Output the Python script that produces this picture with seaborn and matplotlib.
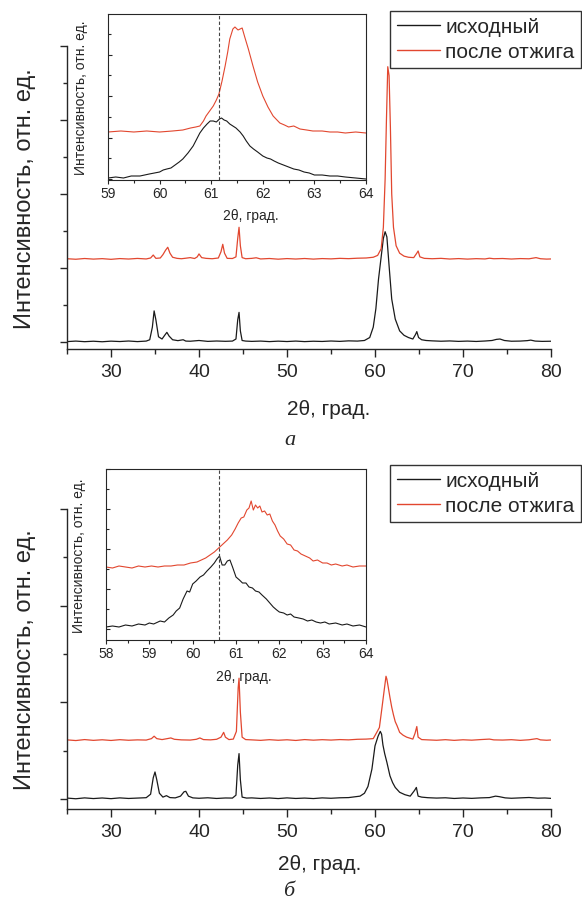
import pandas as pd
import matplotlib
matplotlib.use("Agg")
import matplotlib.pyplot as plt
import seaborn as sns
from matplotlib.lines import Line2D
from matplotlib.ticker import MultipleLocator, NullFormatter

# ---------------------------------------------------------
# Data (arbitrary intensity units)
# ---------------------------------------------------------
LABELS = ["исходный", "после отжига"]
COLORS = ["#1a1a1a", "#e2472f"]

# panel a, main
a_x_black = [25, 26, 27, 28, 29, 30, 31, 32, 33, 34, 34.4, 34.7, 34.9, 35.1, 35.4, 35.8,
             36.1, 36.35, 36.6, 37.0, 37.6, 38.2, 38.5, 39, 40, 41, 42, 43, 43.8, 44.2,
             44.4, 44.55, 44.7, 44.9, 45.3, 46, 47, 48, 49, 50, 51, 52, 53, 54, 55, 56,
             57, 58, 58.8, 59.4, 59.8, 60.1, 60.4, 60.7, 60.95, 61.15, 61.35, 61.6, 61.9,
             62.3, 62.8, 63.3, 63.8, 64.3, 64.6, 64.75, 64.95, 65.3, 65.8, 66.5, 67.5,
             68.5, 69.5, 70.5, 71.5, 72.5, 73.3, 73.8, 74.2, 74.7, 75.5, 76.5, 77.3, 77.7,
             78.2, 79, 80]
a_y_black = [0.005, 0.012, 0.004, 0.010, 0.003, 0.011, 0.006, 0.013, 0.005, 0.012, 0.030,
             0.200, 0.420, 0.300, 0.070, 0.040, 0.090, 0.130, 0.080, 0.030, 0.018, 0.030,
             0.012, 0.010, 0.020, 0.008, 0.013, 0.009, 0.012, 0.040, 0.300, 0.400, 0.150,
             0.020, 0.012, 0.008, 0.012, 0.005, 0.011, 0.006, 0.012, 0.005, 0.010, 0.007,
             0.013, 0.008, 0.015, 0.012, 0.020, 0.060, 0.200, 0.450, 0.850, 1.150, 1.400,
             1.490, 1.420, 1.030, 0.580, 0.310, 0.150, 0.090, 0.060, 0.040, 0.100, 0.140,
             0.060, 0.030, 0.020, 0.015, 0.010, 0.014, 0.008, 0.012, 0.007, 0.013, 0.020,
             0.035, 0.040, 0.020, 0.010, 0.012, 0.018, 0.025, 0.012, 0.008, 0.010]
a_x_red = [25, 26, 27, 28, 29, 30, 31, 32, 33, 34, 34.5, 34.8, 35.1, 35.6, 35.9, 36.2,
           36.45, 36.7, 37.0, 37.5, 38.0, 38.5, 39.0, 39.5, 39.8, 40.0, 40.3, 40.8, 41.5,
           42.2, 42.5, 42.7, 42.9, 43.2, 43.8, 44.2, 44.4, 44.55, 44.7, 44.9, 45.3, 46.0,
           46.5, 47, 48, 49, 50, 51, 52, 53, 54, 55, 56, 57, 58, 59, 59.8, 60.3, 60.7,
           60.95, 61.15, 61.3, 61.45, 61.6, 61.75, 61.9, 62.1, 62.4, 62.8, 63.3, 63.8,
           64.4, 64.75, 64.9, 65.1, 65.6, 66.5, 67.5, 68.5, 69.5, 70.5, 71.5, 72.5, 73.0,
           73.5, 74.5, 75.5, 76.5, 77.5, 78.3, 78.8, 79.5, 80]
a_y_red = [1.125, 1.118, 1.128, 1.120, 1.126, 1.117, 1.127, 1.121, 1.129, 1.122, 1.135,
           1.175, 1.130, 1.135, 1.180, 1.240, 1.280, 1.200, 1.145, 1.130, 1.125, 1.132,
           1.140, 1.128, 1.150, 1.190, 1.140, 1.130, 1.125, 1.135, 1.220, 1.320, 1.200,
           1.130, 1.128, 1.150, 1.400, 1.550, 1.300, 1.140, 1.125, 1.130, 1.138, 1.122,
           1.128, 1.119, 1.127, 1.121, 1.128, 1.120, 1.127, 1.123, 1.130, 1.126, 1.132,
           1.135, 1.145, 1.170, 1.260, 1.550, 2.200, 3.000, 3.720, 3.600, 2.900, 2.000,
           1.550, 1.300, 1.200, 1.160, 1.145, 1.140, 1.200, 1.230, 1.150, 1.130, 1.125,
           1.130, 1.121, 1.127, 1.120, 1.126, 1.122, 1.132, 1.125, 1.128, 1.121, 1.127,
           1.124, 1.140, 1.125, 1.120, 1.122]

# panel a, inset
ai_x_black = [59.0, 59.15, 59.3, 59.45, 59.62, 59.8, 60.0, 60.07, 60.14, 60.22, 60.3, 60.38,
              60.45, 60.55, 60.65, 60.72, 60.78, 60.85, 60.92, 60.98, 61.04, 61.1, 61.16,
              61.2, 61.25, 61.3, 61.36, 61.42, 61.48, 61.56, 61.62, 61.68, 61.75, 61.82,
              61.9, 62.0, 62.08, 62.15, 62.22, 62.3, 62.4, 62.5, 62.6, 62.7, 62.8, 62.9,
              63.0, 63.15, 63.3, 63.45, 63.6, 63.8, 64.0]
ai_y_black = [1, 2, 1, 3, 3, 5, 7, 9, 10, 11, 14, 17, 20, 26, 33, 40, 46, 51, 55, 58, 58,
              57, 60, 61, 59, 58, 55, 53, 51, 47, 43, 38, 33, 30, 27, 23, 21, 20, 18, 16,
              14, 12, 10, 9, 7, 6, 4, 4, 3, 3, 2, 1, 0]
ai_x_red = [59.0, 59.25, 59.5, 59.75, 60.0, 60.25, 60.45, 60.6, 60.7, 60.78, 60.85, 60.9,
            60.97, 61.04, 61.1, 61.15, 61.21, 61.27, 61.32, 61.36, 61.42, 61.46, 61.52,
            61.56, 61.6, 61.65, 61.72, 61.81, 61.9, 62.0, 62.1, 62.2, 62.33, 62.42, 62.5,
            62.6, 62.72, 62.85, 62.97, 63.15, 63.3, 63.45, 63.6, 63.8, 64.0]
ai_y_red = [47, 48, 47, 48, 47, 48, 49, 51, 52, 53, 58, 63, 68, 73, 79, 85, 98, 113, 127,
            140, 150, 152, 149, 150, 151, 142, 130, 113, 97, 83, 72, 63, 56, 54, 52, 53,
            50, 49, 48, 48, 47, 47, 46, 47, 46]

# panel b, main
b_x_black = [25, 26, 27, 28, 29, 30, 31, 32, 33, 34, 34.5, 34.8, 35.0, 35.2, 35.5, 35.9,
             36.3, 36.7, 37.3, 37.9, 38.3, 38.5, 38.8, 39.3, 40, 41, 42, 43, 43.8, 44.2,
             44.4, 44.55, 44.7, 44.9, 45.4, 46, 47, 48, 49, 50, 51, 52, 53, 54, 55, 56, 57,
             58.3, 58.8, 59.2, 59.65, 60.0, 60.35, 60.6, 60.75, 60.9, 61.1, 61.35, 61.7,
             62.0, 62.3, 62.8, 63.4, 64.0, 64.5, 64.7, 64.9, 65.3, 66, 67, 68, 69, 70, 71,
             72, 73, 73.7, 74.1, 74.8, 75.5, 76.5, 77.5, 78.5, 79.3, 80]
b_y_black = [0.010, 0.003, 0.012, 0.005, 0.011, 0.004, 0.012, 0.006, 0.010, 0.014, 0.050,
             0.220, 0.280, 0.200, 0.060, 0.020, 0.035, 0.015, 0.012, 0.030, 0.075, 0.080,
             0.030, 0.012, 0.008, 0.013, 0.006, 0.011, 0.010, 0.040, 0.350, 0.470, 0.200,
             0.020, 0.010, 0.012, 0.006, 0.011, 0.005, 0.012, 0.006, 0.010, 0.005, 0.012,
             0.008, 0.013, 0.015, 0.030, 0.060, 0.130, 0.310, 0.550, 0.650, 0.700, 0.670,
             0.560, 0.470, 0.380, 0.240, 0.170, 0.120, 0.070, 0.045, 0.030, 0.090, 0.120,
             0.030, 0.020, 0.014, 0.010, 0.013, 0.006, 0.011, 0.007, 0.012, 0.015, 0.030,
             0.025, 0.012, 0.008, 0.012, 0.016, 0.009, 0.011, 0.007]
b_x_red = [25, 26, 27, 28, 29, 30, 31, 32, 33, 34, 34.6, 34.9, 35.2, 35.8, 36.4, 36.8,
           37.2, 38, 39, 39.7, 40.1, 40.5, 41.3, 42.0, 42.5, 42.8, 43.0, 43.4, 43.9, 44.25,
           44.45, 44.55, 44.7, 44.9, 45.3, 46, 47, 48, 49, 50, 51, 52, 53, 54, 55, 56, 57,
           58, 59, 59.8, 60.2, 60.5, 60.8, 61.05, 61.25, 61.35, 61.5, 61.7, 61.9, 62.1,
           62.3, 62.5, 62.8, 63.2, 63.6, 64.3, 64.55, 64.75, 64.9, 65.3, 66, 67, 68, 69,
           70, 71, 72, 73, 73.5, 74.5, 75.5, 76.5, 77.5, 78.4, 78.8, 79.5, 80]
b_y_red = [0.612, 0.605, 0.615, 0.607, 0.613, 0.606, 0.614, 0.608, 0.612, 0.610, 0.625,
           0.650, 0.625, 0.615, 0.625, 0.632, 0.618, 0.612, 0.610, 0.618, 0.632, 0.615,
           0.612, 0.618, 0.640, 0.690, 0.640, 0.615, 0.620, 0.700, 1.150, 1.250, 0.900,
           0.640, 0.615, 0.612, 0.607, 0.614, 0.608, 0.613, 0.606, 0.615, 0.609, 0.614,
           0.610, 0.615, 0.612, 0.618, 0.620, 0.625, 0.690, 0.740, 0.950, 1.130, 1.270,
           1.240, 1.160, 1.050, 0.950, 0.870, 0.800, 0.760, 0.690, 0.660, 0.640, 0.620,
           0.680, 0.750, 0.640, 0.615, 0.612, 0.608, 0.614, 0.607, 0.613, 0.609, 0.615,
           0.620, 0.612, 0.610, 0.614, 0.607, 0.613, 0.625, 0.612, 0.608, 0.611]

# panel b, inset
bi_x_black = [58.0, 58.15, 58.3, 58.45, 58.6, 58.75, 58.9, 59.0, 59.1, 59.25, 59.35, 59.45,
              59.55, 59.62, 59.7, 59.78, 59.87, 59.93, 60.0, 60.08, 60.17, 60.25, 60.33,
              60.42, 60.5, 60.56, 60.62, 60.68, 60.74, 60.8, 60.86, 60.92, 61.0, 61.08,
              61.15, 61.23, 61.3, 61.38, 61.45, 61.53, 61.6, 61.7, 61.78, 61.86, 61.94,
              62.0, 62.1, 62.18, 62.26, 62.34, 62.45, 62.55, 62.65, 62.75, 62.85, 62.95,
              63.05, 63.15, 63.3, 63.45, 63.56, 63.7, 63.85, 64.0]
bi_y_black = [2, 3, 2, 4, 3, 5, 4, 6, 5, 8, 7, 11, 14, 18, 21, 30, 38, 37, 45, 48, 52, 54,
              58, 62, 66, 70, 73, 64, 64, 68, 69, 62, 52, 49, 46, 46, 42, 41, 38, 37, 34,
              30, 26, 22, 19, 17, 16, 14, 15, 12, 11, 10, 8, 9, 7, 6, 7, 5, 6, 4, 5, 3, 4, 2]
bi_x_red = [58.0, 58.15, 58.3, 58.45, 58.6, 58.75, 58.9, 59.05, 59.2, 59.35, 59.5, 59.65,
            59.8, 59.95, 60.1, 60.2, 60.3, 60.4, 60.5, 60.6, 60.7, 60.8, 60.9, 60.98, 61.05,
            61.12, 61.18, 61.25, 61.3, 61.35, 61.4, 61.45, 61.5, 61.55, 61.6, 61.66, 61.72,
            61.78, 61.84, 61.9, 61.96, 62.02, 62.1, 62.18, 62.26, 62.34, 62.42, 62.5, 62.6,
            62.7, 62.78, 62.88, 63.0, 63.1, 63.2, 63.3, 63.45, 63.56, 63.7, 63.85, 64.0]
bi_y_red = [62, 61, 63, 62, 61, 63, 62, 63, 62, 63, 63, 64, 64, 66, 67, 69, 71, 74, 77, 81,
            85, 89, 94, 100, 106, 111, 112, 119, 121, 128, 119, 124, 121, 123, 117, 118,
            114, 115, 108, 104, 98, 93, 90, 85, 84, 79, 78, 75, 73, 71, 68, 69, 66, 66, 64,
            65, 63, 64, 62, 63, 63]

a_marker = 61.15
b_marker = 60.6

# ---------------------------------------------------------
sns.set_theme(style="ticks")
plt.rcParams["font.family"] = ["Liberation Sans", "DejaVu Sans"]
plt.rcParams["axes.linewidth"] = 1.0

fig = plt.figure(figsize=(5.82, 9.03), dpi=100)
W, H = 582, 903


def frac(left, top, right, bottom):
    return [left / W, 1 - bottom / H, (right - left) / W, (bottom - top) / H]


def draw_curves(ax, xb, yb, xr, yr, lw):
    df = pd.concat([
        pd.DataFrame({"x": xb, "y": yb, "s": LABELS[0]}),
        pd.DataFrame({"x": xr, "y": yr, "s": LABELS[1]}),
    ])
    sns.lineplot(data=df, x="x", y="y", hue="s", palette=COLORS, sort=False,
                 estimator=None, linewidth=lw, ax=ax, legend=False)


def main_panel(box, xb, yb, xr, yr, ylim, xlab_x, xlab_y):
    ax = fig.add_axes(frac(*box))
    draw_curves(ax, xb, yb, xr, yr, 0.9)
    ax.set_xlim(25, 80)
    ax.set_ylim(*ylim)
    sns.despine(ax=ax)
    ax.xaxis.set_major_locator(MultipleLocator(10))
    ax.xaxis.set_minor_locator(MultipleLocator(5))
    ax.yaxis.set_major_locator(MultipleLocator(1))
    ax.yaxis.set_minor_locator(MultipleLocator(0.5))
    ax.yaxis.set_major_formatter(NullFormatter())
    ax.tick_params(axis="x", which="major", direction="out", length=6, width=1,
                   labelsize=14, pad=4)
    ax.tick_params(axis="x", which="minor", direction="out", length=3.5, width=1)
    ax.tick_params(axis="y", which="major", direction="out", length=5, width=1)
    ax.tick_params(axis="y", which="minor", direction="out", length=3, width=1)
    ax.set_xlabel("2θ, град.", fontsize=15)
    ax.xaxis.set_label_coords(xlab_x, xlab_y)
    ax.set_ylabel("Интенсивность, отн. ед.", fontsize=17)
    ax.yaxis.set_label_coords(-0.064, 0.5)
    return ax


def inset_panel(box, xb, yb, xr, yr, xmin, ylim, step, marker, xlab_x):
    ax = fig.add_axes(frac(*box))
    draw_curves(ax, xb, yb, xr, yr, 0.8)
    ax.axvline(marker, color="#444444", linestyle=(0, (3, 2)), linewidth=0.8)
    ax.set_xlim(xmin, 64)
    ax.set_ylim(*ylim)
    for s in ax.spines.values():
        s.set_linewidth(0.8)
    ax.xaxis.set_major_locator(MultipleLocator(1))
    ax.xaxis.set_minor_locator(MultipleLocator(0.5))
    ax.yaxis.set_major_locator(MultipleLocator(step))
    ax.yaxis.set_minor_locator(MultipleLocator(step / 2))
    ax.yaxis.set_major_formatter(NullFormatter())
    ax.tick_params(axis="x", which="major", direction="out", length=3, width=0.8,
                   labelsize=10, pad=1.5)
    ax.tick_params(axis="x", which="minor", direction="out", length=2, width=0.8)
    ax.tick_params(axis="y", which="major", direction="in", length=3, width=0.8)
    ax.tick_params(axis="y", which="minor", direction="in", length=2, width=0.8)
    ax.set_xlabel("2θ, град.", fontsize=10, labelpad=1)
    ax.xaxis.set_label_coords(xlab_x, -0.17)
    ax.set_ylabel("Интенсивность, отн. ед.", fontsize=10)
    ax.yaxis.set_label_coords(-0.078, 0.5)
    return ax


# panel a
ax_a = main_panel((67, 47, 551, 350), a_x_black, a_y_black, a_x_red, a_y_red,
                  (-0.095, 4.0), 0.54, -0.165)
inset_panel((108, 15, 366, 181), ai_x_black, ai_y_black, ai_x_red, ai_y_red,
            59, (-1, 165), 41.5, a_marker, 0.555)

# panel b
ax_b = main_panel((67, 510, 551, 810), b_x_black, b_y_black, b_x_red, b_y_red,
                  (-0.103, 3.0), 0.523, -0.15)
inset_panel((106, 470, 366, 641), bi_x_black, bi_y_black, bi_x_red, bi_y_red,
            58, (-11, 160), 40, b_marker, 0.53)

# legends
handles = [Line2D([], [], color=c, lw=1.0) for c in COLORS]
for top in (12, 466):
    leg = fig.legend(handles, LABELS, loc="upper right",
                     bbox_to_anchor=(581 / W, 1 - top / H), fontsize=15,
                     frameon=True, fancybox=False, handlelength=2.1,
                     handletextpad=0.25, labelspacing=0.3, borderpad=0.3,
                     borderaxespad=0)
    leg.get_frame().set_edgecolor("black")
    leg.get_frame().set_linewidth(1.0)

# captions
fig.text(290 / W, 1 - 441 / H, "а", family="Liberation Serif", style="italic",
         fontsize=16, ha="center", va="center")
fig.text(289 / W, 1 - 892 / H, "б", family="Liberation Serif", style="italic",
         fontsize=16, ha="center", va="center")

fig.savefig("out.png", dpi=100)
